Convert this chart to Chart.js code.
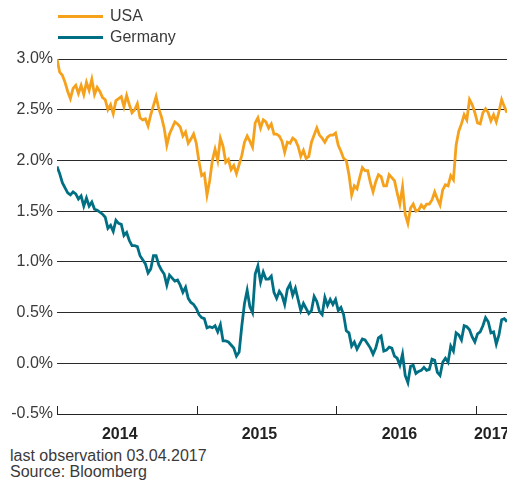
<!DOCTYPE html>
<html>
<head>
<meta charset="utf-8">
<script src="https://cdn.jsdelivr.net/npm/chart.js@4/dist/chart.umd.min.js"></script>
<style>
    body { margin: 0; background: #fff; font-family: 'Liberation Sans', Arial, sans-serif; color: #3a3a3a; }
    #wrap { position: relative; width: 507px; height: 480px; }
    #chart { position: absolute; left: 0; top: 0; }
    .legend-row { position: absolute; left: 58px; height: 20px; font-size: 16px; line-height: 20px; }
    .legend-row span.swatch { position: absolute; left: 0; top: 9px; width: 45px; height: 3px; }
    .legend-row span.text { position: absolute; left: 52px; top: 0; white-space: nowrap; }
    #footer { position: absolute; left: 10px; top: 448px; font-size: 16px; line-height: 16px; }
</style>
</head>
<body>
<div id="wrap">
    <canvas id="chart" width="507" height="446"></canvas>
    <div id="legend"></div>
    <div id="footer">last observation 03.04.2017<br>Source: Bloomberg</div>
</div>
<script>
// weekly readings, first point 02.01.2014
const weekStep = 7
const seriesNames = ['USA', 'Germany']
const seriesColors = ['#F5A11C', '#006F84']

const usaYields = [3.00, 2.87, 2.84, 2.77, 2.68, 2.61, 2.71, 2.74, 2.66, 2.74,
    2.65, 2.77, 2.69, 2.80, 2.65, 2.72, 2.68, 2.62, 2.60, 2.50,
    2.55, 2.46, 2.59, 2.61, 2.63, 2.53, 2.64, 2.55, 2.47, 2.50,
    2.56, 2.42, 2.40, 2.41, 2.34, 2.45, 2.54, 2.63, 2.51, 2.43,
    2.32, 2.15, 2.26, 2.32, 2.38, 2.36, 2.33, 2.24, 2.28, 2.17,
    2.21, 2.26, 2.17, 1.99, 1.85, 1.87, 1.66, 1.80, 2.00, 2.11,
    2.00, 2.22, 2.14, 1.98, 2.01, 1.91, 1.95, 1.87, 1.96, 2.05,
    2.18, 2.24, 2.19, 2.13, 2.37, 2.42, 2.32, 2.40, 2.38, 2.32,
    2.36, 2.26, 2.26, 2.24, 2.19, 2.08, 2.18, 2.17, 2.22, 2.20,
    2.14, 2.04, 2.10, 2.02, 2.04, 2.18, 2.25, 2.32, 2.25, 2.22,
    2.18, 2.23, 2.25, 2.25, 2.27, 2.15, 2.09, 2.02, 2.00, 1.86,
    1.66, 1.75, 1.72, 1.83, 1.93, 1.90, 1.90, 1.78, 1.69, 1.79,
    1.86, 1.84, 1.75, 1.75, 1.86, 1.83, 1.80, 1.68, 1.57, 1.74,
    1.47, 1.38, 1.53, 1.57, 1.50, 1.51, 1.56, 1.53, 1.57, 1.57,
    1.61, 1.69, 1.62, 1.56, 1.71, 1.76, 1.75, 1.85, 1.81, 2.15,
    2.29, 2.36, 2.45, 2.40, 2.60, 2.55, 2.47, 2.37, 2.36, 2.47,
    2.51, 2.47, 2.39, 2.45, 2.38, 2.48, 2.60, 2.53, 2.47]

const germanyYields = [1.94, 1.87, 1.78, 1.73, 1.68, 1.66, 1.69, 1.67, 1.62, 1.65,
    1.55, 1.63, 1.55, 1.59, 1.52, 1.51, 1.49, 1.47, 1.44, 1.33,
    1.36, 1.30, 1.41, 1.38, 1.37, 1.26, 1.29, 1.21, 1.16, 1.16,
    1.15, 1.06, 1.02, 0.98, 0.89, 0.93, 1.06, 1.06, 0.97, 0.92,
    0.88, 0.77, 0.87, 0.84, 0.81, 0.82, 0.77, 0.70, 0.75, 0.64,
    0.60, 0.58, 0.54, 0.48, 0.45, 0.44, 0.35, 0.36, 0.35, 0.37,
    0.31, 0.38, 0.22, 0.22, 0.21, 0.18, 0.15, 0.07, 0.11, 0.37,
    0.59, 0.72, 0.56, 0.50, 0.88, 0.96, 0.80, 0.90, 0.83, 0.83,
    0.86, 0.70, 0.64, 0.71, 0.67, 0.58, 0.73, 0.78, 0.67, 0.74,
    0.63, 0.52, 0.59, 0.54, 0.49, 0.52, 0.66, 0.61, 0.51, 0.48,
    0.65, 0.57, 0.63, 0.58, 0.63, 0.52, 0.55, 0.48, 0.32, 0.30,
    0.17, 0.21, 0.14, 0.19, 0.24, 0.23, 0.19, 0.15, 0.09, 0.15,
    0.25, 0.27, 0.12, 0.13, 0.16, 0.15, 0.07, 0.05, -0.02, 0.09,
    -0.12, -0.19, -0.03, -0.02, -0.10, -0.08, -0.07, -0.04, -0.07, -0.06,
    0.04, 0.03, -0.09, -0.12, 0.01, 0.05, 0.01, 0.17, 0.12, 0.30,
    0.28, 0.23, 0.37, 0.36, 0.33, 0.26, 0.21, 0.29, 0.31, 0.37,
    0.45, 0.41, 0.30, 0.31, 0.19, 0.28, 0.43, 0.44, 0.41]

// days since 01.01.2014
const yearStarts = [0, 365, 730, 1096]
const yearLabels = ['2014', '2015', '2016', '2017']
const yearLabelDays = [164, 529, 895, 1136]
const xMax = 1176
const yMin = -0.5
const yMax = 3.0
const yStep = 0.5

function toPoints(values) {
    return values.map((v, i) => ({ x: i * weekStep, y: v }))
}

// Legend (two rows, above the plot)
const legend = document.querySelector('#legend')
seriesNames.forEach((name, i) => {
    let row = document.createElement('div')
    row.className = 'legend-row'
    row.style.top = (6 + i * 21) + 'px'
    let swatch = document.createElement('span')
    swatch.className = 'swatch'
    swatch.style.background = seriesColors[i]
    let text = document.createElement('span')
    text.className = 'text'
    text.textContent = name
    row.appendChild(swatch)
    row.appendChild(text)
    legend.appendChild(row)
})

// Small upward tick marks at the year boundaries
const yearTicks = {
    id: 'yearTicks',
    afterDraw(chart) {
        const { ctx, scales: { x, y } } = chart
        const base = y.getPixelForValue(yMin)
        ctx.save()
        ctx.strokeStyle = '#222'
        ctx.lineWidth = 1
        yearStarts.forEach(d => {
            let px = Math.round(x.getPixelForValue(d)) + 0.5
            ctx.beginPath()
            ctx.moveTo(px, base)
            ctx.lineTo(px, base - 8)
            ctx.stroke()
        })
        ctx.restore()
    }
}

const fontFamily = "'Liberation Sans', Arial, sans-serif"

new Chart(document.querySelector('#chart').getContext('2d'), {
    type: 'line',
    data: {
        datasets: [
            { label: seriesNames[0], data: toPoints(usaYields), borderColor: seriesColors[0], borderWidth: 2.8, pointRadius: 0, tension: 0 },
            { label: seriesNames[1], data: toPoints(germanyYields), borderColor: seriesColors[1], borderWidth: 2.8, pointRadius: 0, tension: 0 }
        ]
    },
    options: {
        responsive: false,
        animation: false,
        layout: { padding: { top: 59, right: 0, bottom: 0, left: 0 }, autoPadding: false },
        plugins: { legend: { display: false }, tooltip: { enabled: false } },
        scales: {
            x: {
                type: 'linear',
                min: 0,
                max: xMax,
                afterFit: (scale) => {
                    scale.height = 32
                    scale.paddingLeft = 0
                    scale.paddingRight = 0
                },
                afterBuildTicks: (scale) => { scale.ticks = yearLabelDays.map(v => ({ value: v })) },
                grid: { display: false },
                border: { display: true, color: '#222', width: 1 },
                ticks: {
                    autoSkip: false,
                    maxRotation: 0,
                    padding: 3,
                    color: '#222',
                    font: { family: fontFamily, size: 16, weight: 'bold' },
                    callback: (v) => yearLabels[yearLabelDays.indexOf(v)]
                }
            },
            y: {
                min: yMin,
                max: yMax,
                afterFit: (scale) => { scale.width = 57 },
                grid: { color: '#2a2a2a', lineWidth: 1, drawTicks: false },
                border: { display: false },
                ticks: {
                    stepSize: yStep,
                    padding: 4,
                    color: '#3a3a3a',
                    font: { family: fontFamily, size: 16 },
                    callback: (v) => v.toFixed(1) + '%'
                }
            }
        }
    },
    plugins: [yearTicks]
})
</script>
</body>
</html>
